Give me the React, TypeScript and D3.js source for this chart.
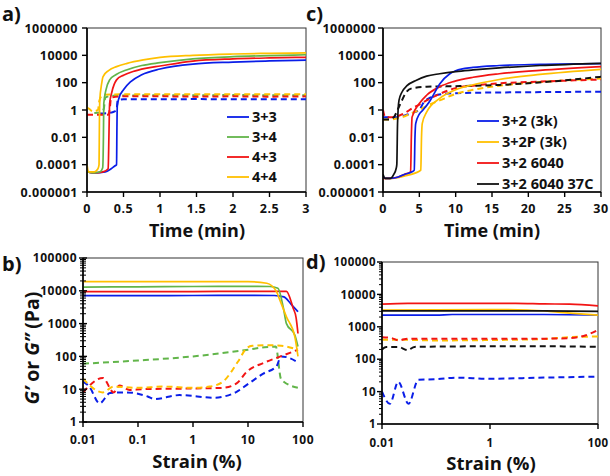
import React from 'react';
import * as d3 from 'd3';

type Pt = [number, number];

// ---------- tick values / labels ----------
const timeTicksA = [0, 0.5, 1, 1.5, 2, 2.5, 3];
const timeLabelsA = ['0', '0.5', '1', '1.5', '2', '2.5', '3'];
const timeTicksC = [0, 5, 10, 15, 20, 25, 30];
const timeLabelsC = ['0', '5', '10', '15', '20', '25', '30'];
const modTicksAC = [1e-6, 1e-4, 1e-2, 1, 100, 1e4, 1e6];
const modLabelsAC = ['0.000001', '0.0001', '0.01', '1', '100', '10000', '1000000'];
const strainTicksB = [0.01, 0.1, 1, 10, 100];
const strainLabelsB = ['0.01', '0.1', '1', '10', '100'];
const strainTicksD = [0.01, 1, 100];
const strainLabelsD = ['0.01', '1', '100'];
const modTicksBD = [1, 10, 100, 1000, 10000, 100000];
const modLabelsBD = ['1', '10', '100', '1000', '10000', '100000'];

// ---------- legends ----------
const legendA = ['3+3', '3+4', '4+3', '4+4'];
const legendC = ['3+2 (3k)', '3+2P (3k)', '3+2 6040', '3+2 6040 37C'];

// ---------- colours ----------
const BLUE = '#0a1ee8';
const GREEN = '#62b54a';
const RED = '#f21414';
const YELLOW = '#ffc000';
const BLACK = '#111111';

// ---------- panel a : time sweep (min), G' solid, G'' dashed ----------
const a33Gp: Pt[] = [[0, 3e-5], [0.1, 2.5e-5], [0.25, 3e-5], [0.33, 5e-5], [0.38, 8e-5], [0.405, 1e-4], [0.41, 0.05], [0.415, 2], [0.44, 8], [0.5, 30], [0.6, 120], [0.75, 380], [1, 1000], [1.45, 2300], [2, 3200], [2.5, 3900], [3, 4500]];
const a34Gp: Pt[] = [[0, 3e-5], [0.1, 2.5e-5], [0.18, 3e-5], [0.215, 6e-5], [0.225, 0.01], [0.23, 3], [0.26, 30], [0.31, 160], [0.4, 400], [0.54, 850], [0.75, 1800], [1, 2900], [1.45, 5500], [2, 8000], [2.5, 9500], [3, 11000]];
const a43Gp: Pt[] = [[0, 3e-5], [0.1, 2.5e-5], [0.22, 3e-5], [0.29, 5e-5], [0.3, 0.01], [0.31, 3], [0.34, 20], [0.405, 160], [0.5, 350], [0.63, 650], [0.8, 1100], [1, 1650], [1.45, 3800], [2, 5500], [2.5, 6500], [3, 7200]];
const a44Gp: Pt[] = [[0, 1e-4], [0.02, 3e-5], [0.1, 3e-5], [0.15, 5e-5], [0.165, 1e-4], [0.17, 0.1], [0.175, 5], [0.2, 80], [0.22, 280], [0.3, 800], [0.405, 1500], [0.55, 2600], [0.77, 4600], [1, 7000], [1.45, 10000], [2, 12500], [2.5, 14000], [3, 15000]];
const a33Gpp: Pt[] = [[0.18, 0.55], [0.3, 0.6], [0.38, 0.8], [0.405, 1], [0.42, 5], [0.5, 6], [1, 6], [1.5, 6.3], [2, 6], [2.5, 6.2], [3, 6]];
const a34Gpp: Pt[] = [[0.1, 0.6], [0.2, 0.7], [0.23, 1.2], [0.25, 8], [0.35, 11], [1, 12], [1.5, 12], [2, 12.5], [2.5, 12], [3, 12]];
const a43Gpp: Pt[] = [[0, 0.45], [0.15, 0.45], [0.29, 0.45], [0.31, 1], [0.33, 8], [0.5, 10], [1, 10], [1.5, 9.5], [2, 10], [2.5, 9.5], [3, 10]];
const a44Gpp: Pt[] = [[0, 1.5], [0.03, 1.2], [0.08, 0.8], [0.15, 1], [0.17, 5], [0.22, 13], [0.5, 14], [1, 14], [1.5, 14.5], [2, 14], [2.5, 14.5], [3, 14]];

// ---------- panel c : time sweep (min) ----------
const c32Gp: Pt[] = [[0, 1.5e-5], [0.3, 1e-5], [1, 1e-5], [2, 1.2e-5], [3, 2e-5], [4, 3e-5], [4.3, 4e-5], [4.4, 0.01], [4.5, 0.1], [5, 0.5], [5.5, 1], [6.5, 5], [7.8, 80], [9.2, 450], [10, 750], [12.4, 1300], [16, 1800], [21.6, 2200], [30, 2500]];
const c32PGp: Pt[] = [[0, 1e-5], [1, 1e-5], [3, 1.5e-5], [4.5, 2.5e-5], [5.2, 4e-5], [5.3, 0.01], [5.4, 0.1], [6, 0.7], [7.8, 7], [10, 30], [12.4, 70], [16, 170], [21.6, 400], [30, 950]];
const c6040Gp: Pt[] = [[0, 1e-5], [1, 1e-5], [2, 1.2e-5], [3, 2e-5], [3.8, 3e-5], [3.9, 0.01], [4.0, 0.3], [5, 3], [6, 12], [7.8, 50], [9.7, 120], [12.4, 250], [16, 450], [21.6, 800], [30, 1500]];
const c604037Gp: Pt[] = [[0, 2e-5], [0.3, 1e-5], [1, 1e-5], [1.5, 2e-5], [1.8, 5e-5], [1.9, 1e-4], [2.0, 0.1], [2.2, 5], [2.6, 20], [3.3, 60], [4.6, 150], [6, 300], [7.8, 450], [10, 650], [12.4, 850], [16, 1200], [21.6, 1800], [30, 2600]];
const c32Gpp: Pt[] = [[0, 0.3], [1, 0.3], [2, 0.3], [3, 0.4], [4, 0.6], [5, 1], [5.5, 3], [6.5, 8], [8, 14], [10, 17], [15, 19], [20, 20], [30, 22]];
const c32PGpp: Pt[] = [[0, 0.2], [1, 0.2], [2, 0.25], [3, 0.35], [4, 0.6], [5, 1], [6, 2], [7.8, 5], [10, 15], [12.4, 30], [16, 60], [21.6, 110], [30, 200]];
const c6040Gpp: Pt[] = [[0, 1], [0.3, 0.3], [1, 0.3], [2, 0.35], [3, 0.6], [4, 1.3], [5, 2.5], [6, 5], [7.8, 15], [10, 40], [12.4, 60], [16, 90], [21.6, 120], [30, 170]];
const c604037Gpp: Pt[] = [[0, 0.2], [0.8, 0.2], [1.5, 0.3], [2, 1], [2.6, 5], [3.2, 20], [4.1, 40], [6, 50], [10, 55], [16, 68], [23, 120], [30, 270]];

// ---------- panel b : strain sweep (%) ----------
const b33Gp: Pt[] = [[0.01, 7100], [0.1, 7100], [1, 7200], [10, 7300], [30, 7200], [45, 6500], [60, 4000], [81, 2300]];
const b34Gp: Pt[] = [[0.01, 13000], [0.1, 13200], [1, 13500], [10, 13600], [25, 13500], [35, 12000], [44, 3000], [50, 1000], [71, 450], [81, 200]];
const b43Gp: Pt[] = [[0.01, 9400], [1, 9500], [10, 9600], [30, 9600], [50, 9600], [66, 3000], [75, 1500], [81, 500]];
const b44Gp: Pt[] = [[0.01, 19000], [1, 19000], [10, 19000], [22, 17000], [33, 9400], [38, 5200], [50, 1600], [71, 400], [81, 100]];
const b33Gpp: Pt[] = [[0.01, 17], [0.013, 12], [0.02, 3.7], [0.031, 7.6], [0.062, 8], [0.15, 6], [0.2, 5], [0.57, 6.6], [2.5, 5.5], [3.5, 5.9], [6.2, 8.3], [9.5, 13.5], [19, 30], [33, 50], [40, 100], [50, 95], [81, 66]];
const b34Gpp: Pt[] = [[0.01, 60], [0.1, 75], [1, 100], [10, 160], [20, 190], [32, 200], [40, 20], [81, 11]];
const b43Gpp: Pt[] = [[0.01, 8], [0.023, 22], [0.036, 8], [0.046, 13], [0.07, 9.5], [0.12, 10], [1, 10.5], [3.5, 11], [6.2, 15], [9.5, 34], [19, 63], [38, 98], [81, 160]];
const b44Gpp: Pt[] = [[0.01, 21], [0.023, 8], [0.036, 12], [0.1, 11], [0.3, 12], [1, 11], [2, 12], [3.5, 17], [6.6, 70], [9.5, 180], [12, 210], [20, 220], [40, 210], [81, 160]];

// ---------- panel d : strain sweep (%) ----------
const d32Gp: Pt[] = [[0.01, 2300], [0.1, 2300], [0.2, 2400], [1, 2400], [10, 2400], [100, 2300]];
const d32PGp: Pt[] = [[0.01, 3300], [1, 3400], [5, 3300], [20, 2800], [100, 2300]];
const d6040Gp: Pt[] = [[0.01, 5000], [0.03, 5300], [0.1, 5300], [1, 5300], [3, 5300], [10, 5100], [30, 5000], [100, 4400]];
const d604037Gp: Pt[] = [[0.01, 3100], [1, 3100], [10, 3100], [100, 3000]];
const d32Gpp: Pt[] = [[0.01, 10], [0.014, 4.2], [0.02, 20], [0.031, 4.2], [0.047, 23], [0.1, 24], [0.24, 27], [1, 25], [10, 27], [100, 29]];
const d32PGpp: Pt[] = [[0.01, 400], [0.02, 400], [0.1, 380], [1, 390], [10, 420], [30, 480], [100, 500]];
const d6040Gpp: Pt[] = [[0.01, 480], [0.015, 450], [0.02, 380], [0.03, 430], [0.1, 430], [1, 430], [10, 430], [30, 450], [60, 550], [100, 800]];
const d604037Gpp: Pt[] = [[0.01, 200], [0.012, 240], [0.02, 240], [0.03, 190], [0.04, 240], [1, 250], [10, 250], [100, 240]];

type Series = { data: Pt[]; color: string; dashed: boolean };

const TICK_FONT = "'Open Sans', 'DejaVu Sans', sans-serif";

interface PanelProps {
  x: any;
  y: any;
  xTicks: number[];
  xLabels: string[];
  yTicks: number[];
  yLabels: string[];
  series: Series[];
  xLabelY: number;
  yLabelDx: number;
  tickFont: number;
  minorY?: 'cross' | 'out' | null;
  yTickCross?: boolean;
}

function Panel(p: PanelProps) {
  const [x0, x1] = p.x.range();
  const [y0, y1] = p.y.range(); // y0 bottom, y1 top
  const line = d3
    .line<Pt>()
    .x((d) => p.x(d[0]))
    .y((d) => p.y(d[1]))
    .curve(d3.curveMonotoneX);

  const minor: number[] = [];
  if (p.minorY) {
    const [lo, hi] = p.y.domain();
    for (let dec = lo; dec < hi; dec *= 10) {
      for (let k = 2; k <= 9; k++) minor.push(dec * k);
    }
  }
  const majorLeft = p.yTickCross ? 4 : 5;
  const majorRight = p.yTickCross ? 4 : 0;
  const clipId = `clip-${Math.round(x0)}-${Math.round(y1)}`;

  return (
    <g>
      <defs>
        <clipPath id={clipId}>
          <rect x={x0} y={y1} width={x1 - x0} height={y0 - y1} />
        </clipPath>
      </defs>
      {/* frame */}
      <rect x={x0} y={y1} width={x1 - x0} height={y0 - y1} fill="white" stroke="#333" strokeWidth={1} />
      {/* series */}
      <g clipPath={`url(#${clipId})`}>
        {p.series.map((s, i) => (
          <path
            key={i}
            d={line(s.data) || ''}
            fill="none"
            stroke={s.color}
            strokeWidth={s.dashed ? 2 : 1.7}
            strokeDasharray={s.dashed ? '6,4' : undefined}
            strokeLinejoin="round"
          />
        ))}
      </g>
      {/* axes */}
      <line x1={x0} x2={x0} y1={y1} y2={y0 + 0.5} stroke="#000" strokeWidth={1.6} />
      <line x1={x0} x2={x1} y1={y0} y2={y0} stroke="#000" strokeWidth={1.6} />
      {p.xTicks.map((t, i) => (
        <g key={'xt' + i}>
          <line x1={p.x(t)} x2={p.x(t)} y1={y0} y2={y0 + 5} stroke="#000" strokeWidth={1.4} />
          <text
            x={p.x(t)}
            y={p.xLabelY}
            textAnchor="middle"
            fontFamily={TICK_FONT}
            fontWeight={700}
            fontSize={p.tickFont}
            letterSpacing={0.5}
            fill="#111"
          >
            {p.xLabels[i]}
          </text>
        </g>
      ))}
      {minor.map((t, i) => (
        <line
          key={'mn' + i}
          x1={x0 - 3}
          x2={p.minorY === 'cross' ? x0 + 3 : x0}
          y1={p.y(t)}
          y2={p.y(t)}
          stroke="#000"
          strokeWidth={1}
        />
      ))}
      {p.yTicks.map((t, i) => (
        <g key={'yt' + i}>
          <line x1={x0 - majorLeft} x2={x0 + majorRight} y1={p.y(t)} y2={p.y(t)} stroke="#000" strokeWidth={1.4} />
          <text
            x={x0 - p.yLabelDx}
            y={p.y(t)}
            dy="0.36em"
            textAnchor="end"
            fontFamily={TICK_FONT}
            fontWeight={700}
            fontSize={p.tickFont}
            letterSpacing={0.5}
            fill="#111"
          >
            {p.yLabels[i]}
          </text>
        </g>
      ))}
    </g>
  );
}

function Legend({ x, ys, items, colors }: { x: number; ys: number[]; items: string[]; colors: string[] }) {
  return (
    <g>
      {items.map((it, i) => (
        <g key={i}>
          <line x1={x} x2={x + 22} y1={ys[i]} y2={ys[i]} stroke={colors[i]} strokeWidth={1.8} />
          <text
            x={x + 25}
            y={ys[i]}
            dy="0.36em"
            fontFamily={TICK_FONT}
            fontWeight={700}
            fontSize={14.5}
            fill="#111"
          >
            {it}
          </text>
        </g>
      ))}
    </g>
  );
}

const titleStyle = {
  fontFamily: TICK_FONT,
  fontWeight: 700,
  fontSize: 18.5,
  fill: '#111',
} as const;

export default function App() {
  // scales
  const xA = d3.scaleLinear().domain([0, 3]).range([87, 306]);
  const yA = d3.scaleLog().domain([1e-6, 1e6]).range([192, 28]);
  const xC = d3.scaleLinear().domain([0, 30]).range([383, 601]);
  const yC = d3.scaleLog().domain([1e-6, 1e6]).range([192, 28]);
  const xB = d3.scaleLog().domain([0.01, 100]).range([83, 303]);
  const yB = d3.scaleLog().domain([1, 1e5]).range([422, 258]);
  const xD = d3.scaleLog().domain([0.01, 100]).range([382, 598]);
  const yD = d3.scaleLog().domain([1, 1e5]).range([424, 262]);

  const colorsA = [BLUE, GREEN, RED, YELLOW];
  const colorsC = [BLUE, YELLOW, RED, BLACK];

  const seriesA: Series[] = [
    { data: a33Gpp, color: BLUE, dashed: true },
    { data: a34Gpp, color: GREEN, dashed: true },
    { data: a43Gpp, color: RED, dashed: true },
    { data: a44Gpp, color: YELLOW, dashed: true },
    { data: a33Gp, color: BLUE, dashed: false },
    { data: a43Gp, color: RED, dashed: false },
    { data: a34Gp, color: GREEN, dashed: false },
    { data: a44Gp, color: YELLOW, dashed: false },
  ];
  const seriesC: Series[] = [
    { data: c32Gpp, color: BLUE, dashed: true },
    { data: c32PGpp, color: YELLOW, dashed: true },
    { data: c6040Gpp, color: RED, dashed: true },
    { data: c604037Gpp, color: BLACK, dashed: true },
    { data: c32PGp, color: YELLOW, dashed: false },
    { data: c6040Gp, color: RED, dashed: false },
    { data: c32Gp, color: BLUE, dashed: false },
    { data: c604037Gp, color: BLACK, dashed: false },
  ];
  const seriesB: Series[] = [
    { data: b34Gpp, color: GREEN, dashed: true },
    { data: b33Gpp, color: BLUE, dashed: true },
    { data: b43Gpp, color: RED, dashed: true },
    { data: b44Gpp, color: YELLOW, dashed: true },
    { data: b33Gp, color: BLUE, dashed: false },
    { data: b43Gp, color: RED, dashed: false },
    { data: b34Gp, color: GREEN, dashed: false },
    { data: b44Gp, color: YELLOW, dashed: false },
  ];
  const seriesD: Series[] = [
    { data: d32Gpp, color: BLUE, dashed: true },
    { data: d604037Gpp, color: BLACK, dashed: true },
    { data: d32PGpp, color: YELLOW, dashed: true },
    { data: d6040Gpp, color: RED, dashed: true },
    { data: d32Gp, color: BLUE, dashed: false },
    { data: d32PGp, color: YELLOW, dashed: false },
    { data: d604037Gp, color: BLACK, dashed: false },
    { data: d6040Gp, color: RED, dashed: false },
  ];

  return (
    <svg
      width={610}
      height={476}
      style={{ position: 'absolute', left: 0, top: 0, background: 'white' }}
    >
      <rect x={0} y={0} width={610} height={476} fill="white" />

      <Panel x={xA} y={yA} xTicks={timeTicksA} xLabels={timeLabelsA} yTicks={modTicksAC} yLabels={modLabelsAC}
        series={seriesA} xLabelY={212.5} yLabelDx={9} tickFont={12.5} />
      <Panel x={xC} y={yC} xTicks={timeTicksC} xLabels={timeLabelsC} yTicks={modTicksAC} yLabels={modLabelsAC}
        series={seriesC} xLabelY={212.5} yLabelDx={7} tickFont={12.5} />
      <Panel x={xB} y={yB} xTicks={strainTicksB} xLabels={strainLabelsB} yTicks={modTicksBD} yLabels={modLabelsBD}
        series={seriesB} xLabelY={444} yLabelDx={6} tickFont={12} minorY="cross" yTickCross />
      <Panel x={xD} y={yD} xTicks={strainTicksD} xLabels={strainLabelsD} yTicks={modTicksBD} yLabels={modLabelsBD}
        series={seriesD} xLabelY={447} yLabelDx={6} tickFont={11.5} minorY="out" />

      <Legend x={227} ys={[117, 137, 157, 177]} items={legendA} colors={colorsA} />
      <Legend x={477} ys={[121, 142, 163, 184]} items={legendC} colors={colorsC} />

      {/* axis titles */}
      <text x={197} y={236.5} textAnchor="middle" {...titleStyle} fontSize={18}>Time (min)</text>
      <text x={492} y={236.5} textAnchor="middle" {...titleStyle} fontSize={18}>Time (min)</text>
      <text x={197} y={468} textAnchor="middle" {...titleStyle}>Strain (%)</text>
      <text x={491} y={470} textAnchor="middle" {...titleStyle}>Strain (%)</text>
      <text transform="translate(39,348) rotate(-90)" textAnchor="middle" {...titleStyle} fontSize={19.5}>
        <tspan fontStyle="italic">G’</tspan>
        <tspan> or </tspan>
        <tspan fontStyle="italic">G’’</tspan>
        <tspan> (Pa)</tspan>
      </text>

      {/* panel letters */}
      <text x={2} y={21} {...titleStyle} fontSize={20}>a)</text>
      <text x={306} y={21} {...titleStyle} fontSize={20}>c)</text>
      <text x={2} y={271} {...titleStyle} fontSize={20}>b)</text>
      <text x={306} y={269} {...titleStyle} fontSize={20}>d)</text>
    </svg>
  );
}
